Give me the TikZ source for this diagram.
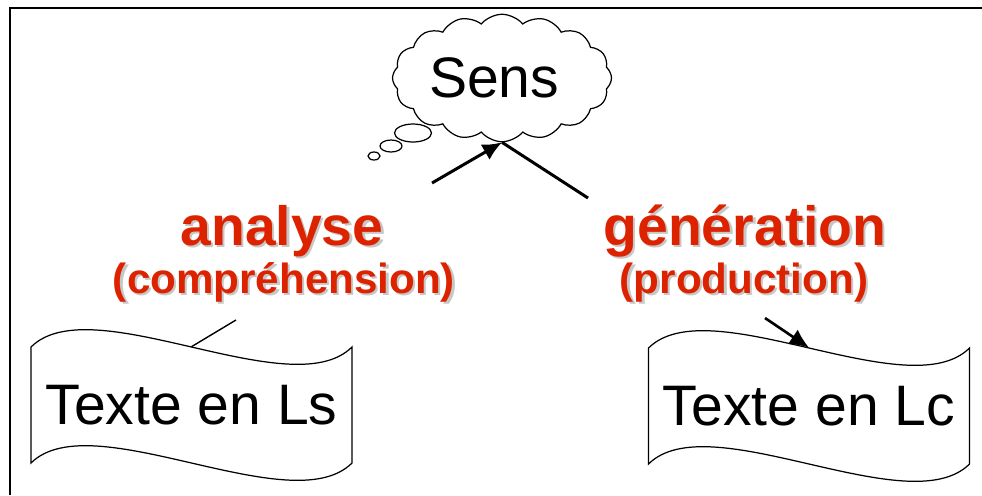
\documentclass[tikz,border=0pt]{standalone}
\usepackage{fontspec}
\setmainfont{Liberation Sans}
\usepackage{tikz}
\usetikzlibrary{arrows.meta}
\usetikzlibrary{shapes.symbols}
\definecolor{rouge}{RGB}{221,34,0}
\newcommand{\ombre}[1]{\makebox[0pt][l]{\hspace{1.3pt}\raisebox{-1.3pt}{\textcolor{black!22}{#1}}}#1}

\begin{document}
\begin{tikzpicture}[x=0.02cm,y=-0.02cm]
	\tikzstyle{lien}=[-,line width=1.7pt]
	\tikzstyle{fleche}=[-{Latex[length=11pt,width=10pt]},line width=1.7pt]
	\tikzset{nuage/.style={draw,cloud,cloud puffs=16,cloud puff arc=100,cloud ignores aspect,line width=0.7pt,minimum width=4.38cm,minimum height=2.55cm,inner sep=0pt,font=\fontsize{32.5}{36}\selectfont},
		doc/.style={minimum width=6.42cm,minimum height=2.32cm,inner sep=0pt,font=\fontsize{32.5}{36}\selectfont},
		etape/.style={text=rouge,inner sep=0pt,font=\fontsize{31.5}{36}\selectfont\bfseries},
		sousetape/.style={text=rouge,inner sep=0pt,font=\fontsize{24}{28}\selectfont\bfseries}}
	\useasboundingbox (0,0) rectangle (982,495);
	% cadre
	\draw[line width=1.6pt] (10,495) -- (10,8) -- (982,8);
	% sens
	\node[nuage] (sens) at (502,78) {\hspace*{-9pt}Sens};
	\draw[line width=0.7pt] (413,133) ellipse (18.5 and 9);
	\draw[line width=0.7pt] (391,146) ellipse (11 and 6);
	\draw[line width=0.7pt] (374,156) ellipse (6 and 4);
	% textes
	\node[doc] (ls) at (191.5,405) {Texte en Ls};
	\node[doc] (lc) at (809,406) {Texte en Lc};
	\foreach \d in {ls,lc}
		\draw[line width=0.7pt,shift={(\d.center)}] (-160.5,-58) .. controls (-100,-118) and (100,2) .. (160.5,-58) -- (160.5,58) .. controls (100,118) and (-100,-2) .. (-160.5,58) -- cycle;
	\node[etape,anchor=base] (analyse) at (282,245) {\ombre{analyse}};
	\node[sousetape,anchor=base] (compr) at (284,293) {\ombre{(compréhension)}};
	\node[etape,anchor=base] (gener) at (745,245) {\ombre{génération}};
	\node[sousetape,anchor=base] (prod) at (744,293) {\ombre{(production)}};
	\coordinate (a1) at (432,183);
	\coordinate (g1) at (588,198);
	\coordinate (c1) at (236,320);
	\coordinate (p1) at (765,318);
	\draw[fleche] (a1) -- (sens.south);
	\draw[lien] (sens.south) -- (g1);
	\draw[lien,line width=0.8pt] (c1) -- (ls.north);
	\draw[fleche,line width=1.5pt] (p1) -- (lc.north);
\end{tikzpicture}
\end{document}
